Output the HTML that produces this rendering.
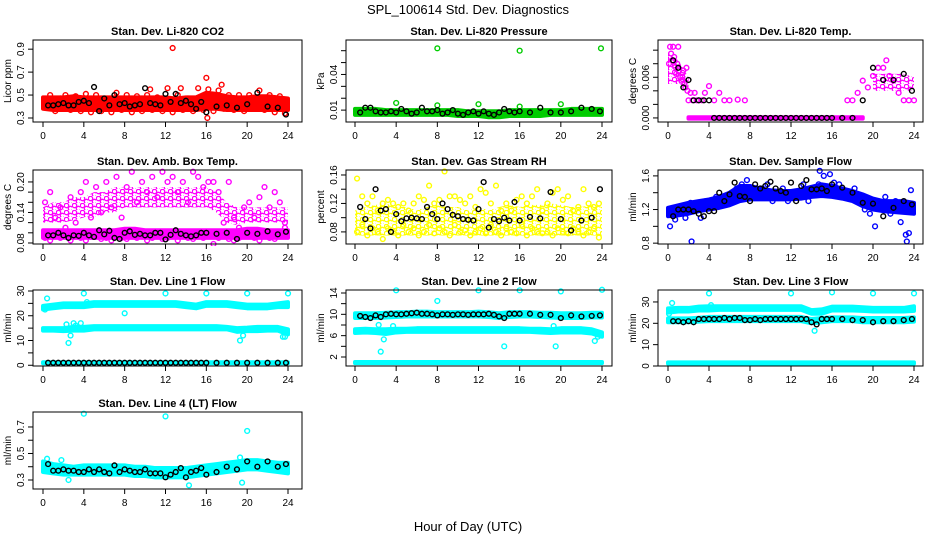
<!DOCTYPE html>
<html><head><meta charset="utf-8"><style>
html,body{margin:0;padding:0;background:#fff;}
svg{display:block;font-family:"Liberation Sans",sans-serif;}
</style></head><body>
<svg id="chart" width="936" height="540" viewBox="0 0 936 540" xmlns="http://www.w3.org/2000/svg">
<defs>
<pattern id="tex-ff00ff" width="8" height="7" patternUnits="userSpaceOnUse"><circle cx="2.5" cy="2.5" r="2.2" fill="none" stroke="#ff00ff" stroke-width="1.3"/><circle cx="6.5" cy="5.5" r="2.2" fill="none" stroke="#ff00ff" stroke-width="1.3"/></pattern>
<pattern id="tex-ffff00" width="8" height="7" patternUnits="userSpaceOnUse"><circle cx="2.5" cy="2.5" r="2.2" fill="none" stroke="#ffff00" stroke-width="1.3"/><circle cx="6.5" cy="5.5" r="2.2" fill="none" stroke="#ffff00" stroke-width="1.3"/></pattern>
</defs>
<rect width="936" height="540" fill="#fff"/>
<text x="468" y="14" font-size="13" text-anchor="middle">SPL_100614  Std. Dev. Diagnostics</text>
<text x="468" y="531" font-size="13" text-anchor="middle">Hour of Day (UTC)</text>
</svg>
<script>
const bandHours=[0,1,2,3,4,5,6,7,8,9,10,11,12,13,14,15,16,17,18,19,20,21,22,23,24];
const blackHours=[0.5,1,1.5,2,2.5,3,3.5,4,4.5,5,5.5,6,6.5,7,7.5,8,8.5,9,9.5,10,10.5,11,11.5,12,12.5,13,13.5,14,14.5,15,15.5,16,17,18,19,20,21,22,23,23.8];
const scatterHours=[0.2,0.7,1.2,1.7,2.2,2.7,3.2,3.7,4.2,4.7,5.2,5.7,6.2,6.7,7.2,7.7,8.2,8.7,9.2,9.7,10.2,10.7,11.2,11.7,12.2,12.7,13.2,13.7,14.2,14.7,15.2,15.7,16.2,16.7,17.2,17.7,18.2,18.7,19.2,19.7,20.2,20.7,21.2,21.7,22.2,22.7,23.2,23.7];
const xTicks=[0,4,8,12,16,20,24];

// CO2
const co2BandLo=[0.38,0.37,0.37,0.37,0.37,0.37,0.37,0.37,0.37,0.37,0.37,0.37,0.37,0.37,0.37,0.37,0.38,0.38,0.37,0.37,0.37,0.37,0.37,0.37,0.37];
const co2BandHi=[0.48,0.48,0.48,0.49,0.48,0.48,0.48,0.48,0.48,0.48,0.48,0.48,0.48,0.47,0.48,0.48,0.52,0.51,0.49,0.48,0.48,0.49,0.49,0.48,0.47];
const co2Scatter=[0.44,0.5,0.36,0.47,0.5,0.37,0.49,0.36,0.51,0.35,0.5,0.36,0.46,0.35,0.52,0.37,0.5,0.35,0.49,0.36,0.5,0.37,0.48,0.36,0.56,0.35,0.5,0.37,0.47,0.36,0.56,0.37,0.55,0.36,0.54,0.38,0.5,0.37,0.5,0.36,0.5,0.38,0.54,0.37,0.5,0.35,0.49,0.34];
const co2OutX=[12.7,16,17.5,16.1,10.5,13.5];
const co2OutY=[0.91,0.65,0.59,0.3,0.55,0.56];
const co2Black=[0.41,0.41,0.42,0.43,0.41,0.41,0.44,0.45,0.43,0.57,0.36,0.47,0.41,0.5,0.42,0.43,0.4,0.41,0.42,0.56,0.43,0.42,0.41,0.51,0.44,0.51,0.43,0.45,0.42,0.38,0.44,0.35,0.4,0.41,0.39,0.42,0.52,0.4,0.39,0.33];
// Pressure
const presBandLo=[0.006,0.006,0.006,0.006,0.006,0.006,0.006,0.006,0.006,0.006,0.005,0.005,0.005,0.004,0.004,0.005,0.005,0.005,0.005,0.006,0.006,0.006,0.006,0.006,0.006];
const presBandHi=[0.011,0.011,0.011,0.010,0.010,0.010,0.010,0.010,0.010,0.010,0.010,0.009,0.009,0.009,0.009,0.010,0.010,0.010,0.010,0.010,0.010,0.011,0.011,0.011,0.011];
const presOutX=[8,16,23.9,4,12,20,8,16];
const presOutY=[0.062,0.06,0.062,0.016,0.015,0.015,0.014,0.013];
const presBlack=[0.008,0.012,0.012,0.009,0.008,0.008,0.009,0.008,0.011,0.009,0.007,0.008,0.012,0.009,0.009,0.01,0.007,0.008,0.01,0.007,0.006,0.008,0.009,0.007,0.009,0.007,0.006,0.008,0.011,0.009,0.008,0.009,0.008,0.012,0.008,0.008,0.009,0.012,0.011,0.009];
// Li-820 Temp
const ltBandALo=[0.005,0.005,0.0045,null,null,null,null,null,null,null,null,null,null,null,null,null,null,null,null,null,0.004,0.004,0.004,0.004,0.004];
const ltBandAHi=[0.0095,0.0085,0.006,null,null,null,null,null,null,null,null,null,null,null,null,null,null,null,null,null,0.0065,0.0065,0.0065,0.0065,0.006];
const ltBandZLo=[null,null,-0.0001,-0.0001,-0.0001,-0.0001,-0.0001,-0.0001,-0.0001,-0.0001,-0.0001,-0.0001,-0.0001,-0.0001,-0.0001,-0.0001,-0.0001,-0.0001,-0.0001,-0.0001,null,null,null,null,null];
const ltBandZHi=[null,null,0.0001,0.0001,0.0001,0.0001,0.0001,0.0001,0.0001,0.0001,0.0001,0.0001,0.0001,0.0001,0.0001,0.0001,0.0001,0.0001,0.0001,0.0001,null,null,null,null,null];
const ltOutX=[0.1,0.2,0.3,0.4,0.5,0.6,0.7,0.8,0.9,1.0,1.1,1.2,1.3,1.4,1.5,1.6,1.7,1.8,1.9,2.0,2.2,2.4,2.6,2.8,3.0,3.3,3.6,4.0,4.5,5.0,5.5,6.0,6.8,7.5,17.5,18.0,18.5,19.0,19.5,20.0,20.5,21.0,21.3,21.6,22.0,22.5,23.0,23.5,24.0];
const ltOutY=[0.008,0.0105,0.0095,0.0085,0.0105,0.009,0.0075,0.0065,0.008,0.0105,0.007,0.006,0.0055,0.006,0.007,0.005,0.0045,0.0074,0.004,0.0026,0.0037,0.0026,0.0037,0.0026,0.0026,0.0026,0.0037,0.0047,0.0026,0.0037,0.0026,0.0026,0.0027,0.0026,0.0026,0.0026,0.0037,0.0055,0.0045,0.0062,0.0074,0.0074,0.0085,0.0062,0.0055,0.0037,0.0026,0.0026,0.0026];
const ltBlack=[0.0085,0.0074,0.0045,0.0056,0.0026,0.0026,0.0026,0.0026,0,0,0,0,0,0,0,0,0,0,0,0,0,0,0,0,0,0,0,0,0,0,0,0,0,0,0.0026,0.0074,0.0056,0.0056,0.0065,0.004];
// Amb box temp
const abBandALo=[0.12,0.12,0.12,0.125,0.13,0.13,0.14,0.14,0.15,0.15,0.15,0.15,0.15,0.15,0.15,0.15,0.15,0.14,0.12,0.115,0.12,0.12,0.12,0.12,0.12];
const abBandAHi=[0.15,0.16,0.16,0.17,0.17,0.18,0.18,0.19,0.19,0.19,0.19,0.19,0.19,0.19,0.19,0.19,0.19,0.18,0.16,0.15,0.15,0.15,0.15,0.15,0.15];
const abBandBLo=[0.09,0.09,0.09,0.09,0.09,0.09,0.09,0.09,0.09,0.09,0.09,0.09,0.09,0.09,0.09,0.09,0.09,0.09,0.09,0.09,0.09,0.09,0.09,0.09,0.09];
const abBandBHi=[0.105,0.105,0.105,0.105,0.105,0.105,0.105,0.105,0.108,0.108,0.105,0.105,0.105,0.105,0.105,0.105,0.105,0.105,0.105,0.105,0.108,0.108,0.105,0.105,0.105];
const abScatterA=[0.16,0.18,0.13,0.15,0.11,0.17,0.12,0.18,0.2,0.13,0.19,0.14,0.2,0.15,0.21,0.13,0.19,0.22,0.16,0.2,0.18,0.21,0.17,0.22,0.2,0.21,0.18,0.2,0.16,0.22,0.21,0.19,0.2,0.2,0.18,0.12,0.2,0.13,0.11,0.15,0.16,0.13,0.17,0.19,0.15,0.18,0.16,0.12];
const abScatterB=[0.09,0.085,0.1,0.09,0.095,0.085,0.1,0.09,0.085,0.095,0.1,0.088,0.09,0.085,0.1,0.09,0.088,0.095,0.09,0.1,0.085,0.09,0.095,0.088,0.09,0.1,0.085,0.095,0.09,0.088,0.095,0.09,0.1,0.078,0.09,0.095,0.088,0.085,0.09,0.1,0.095,0.09,0.085,0.1,0.09,0.088,0.095,0.11];
const abBlack=[0.095,0.095,0.1,0.095,0.09,0.095,0.094,0.1,0.095,0.092,0.105,0.097,0.104,0.09,0.088,0.1,0.103,0.096,0.098,0.095,0.095,0.1,0.1,0.087,0.096,0.105,0.098,0.095,0.093,0.095,0.1,0.1,0.098,0.1,0.088,0.1,0.098,0.103,0.097,0.102];
// RH
const rhBandLo=[0.075,0.075,0.075,0.075,0.075,0.075,0.075,0.075,0.075,0.075,0.075,0.075,0.075,0.075,0.075,0.075,0.075,0.075,0.075,0.075,0.075,0.075,0.075,0.075,0.075];
const rhBandHi=[0.11,0.115,0.118,0.12,0.115,0.115,0.11,0.115,0.118,0.115,0.115,0.11,0.115,0.11,0.115,0.118,0.115,0.118,0.118,0.12,0.118,0.115,0.115,0.118,0.115];
const rhScatterA=[0.155,0.13,0.12,0.13,0.11,0.12,0.125,0.12,0.115,0.12,0.11,0.12,0.13,0.125,0.145,0.12,0.125,0.165,0.13,0.13,0.125,0.12,0.13,0.115,0.14,0.135,0.12,0.145,0.11,0.12,0.11,0.125,0.13,0.12,0.13,0.14,0.11,0.12,0.135,0.14,0.125,0.13,0.11,0.115,0.14,0.12,0.115,0.12];
const rhScatterB=[0.08,0.09,0.075,0.085,0.08,0.07,0.085,0.08,0.075,0.09,0.08,0.085,0.075,0.08,0.09,0.078,0.085,0.08,0.075,0.09,0.08,0.082,0.075,0.08,0.085,0.078,0.09,0.08,0.075,0.085,0.08,0.078,0.09,0.075,0.085,0.08,0.078,0.08,0.075,0.085,0.08,0.078,0.085,0.08,0.075,0.08,0.085,0.072];
const rhBlack=[0.115,0.098,0.085,0.14,0.11,0.112,0.08,0.105,0.095,0.099,0.1,0.099,0.098,0.115,0.105,0.098,0.12,0.112,0.104,0.102,0.098,0.097,0.096,0.112,0.15,0.086,0.098,0.095,0.1,0.096,0.122,0.096,0.101,0.099,0.136,0.098,0.082,0.096,0.1,0.14];
// Sample flow
const sfBandLo=[1.12,1.13,1.15,1.18,1.2,1.22,1.25,1.3,1.32,1.32,1.32,1.32,1.32,1.33,1.35,1.36,1.35,1.33,1.3,1.24,1.2,1.18,1.17,1.16,1.15];
const sfBandHi=[1.22,1.25,1.28,1.3,1.32,1.35,1.4,1.48,1.48,1.45,1.43,1.42,1.42,1.44,1.47,1.5,1.48,1.45,1.42,1.38,1.33,1.3,1.3,1.3,1.28];
const sfScatter=[1.0,1.08,1.2,1.1,1.28,1.25,1.1,1.3,1.3,1.35,1.35,1.3,1.4,1.45,1.5,1.55,1.4,1.35,1.45,1.5,1.3,1.4,1.45,1.3,1.38,1.35,1.5,1.3,1.4,1.5,1.6,1.45,1.52,1.5,1.35,1.4,1.45,1.3,1.2,1.15,1.0,1.25,1.35,1.15,1.3,1.05,0.9,1.43];
const sfOutX=[2.3,14.8,15.8,23.3,23.5];
const sfOutY=[0.82,1.66,1.62,0.82,0.92];
const sfBlack=[1.12,1.2,1.2,1.2,1.18,1.15,1.12,1.18,1.18,1.4,1.3,1.38,1.52,1.36,1.35,1.3,1.5,1.45,1.48,1.53,1.45,1.42,1.4,1.52,1.3,1.48,1.55,1.44,1.44,1.45,1.42,1.5,1.46,1.4,1.28,1.27,1.12,1.22,1.3,1.26];
// Line 1
const l1BandALo=[22.5,23,23.5,23.5,23.5,24,24,24,24,24,24,24,24,24,23.5,23,24,24,24,23.5,23,23,23,23.5,23.5];
const l1BandAHi=[24,24.5,25,25,25,25.5,25.5,25.5,25.5,25.5,25.5,25.5,25.5,25.5,25,24.5,25.5,25.5,25.5,25,24.5,24.5,24.5,25,25.5];
const l1BandBLo=[14,14,13.8,14,14,14.5,14.5,14.5,14.5,14.5,14.5,14.5,14.5,14.5,14.5,14.5,14.5,14.5,14.5,13.5,13.8,13.8,14,14,12.5];
const l1BandBHi=[15,15,15,15.5,15.5,15.8,15.8,15.8,15.8,15.8,15.8,15.8,15.8,15.8,15.8,15.8,15.8,15.8,15.5,15,15.2,15.5,15.5,15.5,14.5];
const l1BandCLo=[0.8,0.8,0.8,0.8,0.8,0.8,0.8,0.8,0.8,0.8,0.8,0.8,0.8,0.8,0.8,0.8,0.8,0.8,0.8,0.8,0.8,0.8,0.8,0.8,0.8];
const l1BandCHi=[1.2,1.2,1.2,1.2,1.2,1.2,1.2,1.2,1.2,1.2,1.2,1.2,1.2,1.2,1.2,1.2,1.2,1.2,1.2,1.2,1.2,1.2,1.2,1.2,1.2];
const l1OutX=[0.4,4,12,16,20,24,8,2.5,2.7,3,3.7,19.3,19.6,23.5,23.7,2.3,3.2,0.2,4.3];
const l1OutY=[27,29,29,29,29,29,21,9,12,17,17,10,12,11.5,11.5,16.5,16,22.5,25.5];
const l1Black=[1,1,1,1,1,1,1,1,1,1,1,1,1,1,1,1,1,1,1,1,1,1,1,1,1,1,1,1,1,1,1,1,1,1,1,1,1,1,1,1];
// Line 2
const l2BandALo=[9.3,9.3,9.3,9.4,9.5,9.6,9.6,9.6,9.6,9.6,9.6,9.6,9.6,9.5,9.3,9.5,9.6,9.6,9.5,9.4,9.3,9.3,9.3,9.4,9.4];
const l2BandAHi=[10.2,10.2,10.2,10.3,10.4,10.4,10.5,10.5,10.4,10.4,10.4,10.4,10.5,10.4,10.2,10.4,10.4,10.4,10.3,10.3,10.2,10.2,10.2,10.3,10.3];
const l2BandBLo=[6.5,6.6,6.5,6.3,6.6,6.7,6.7,6.7,6.7,6.7,6.7,6.7,6.7,6.7,6.7,6.7,6.7,6.7,6.6,6.5,6.6,6.6,6.6,6.4,5.8];
const l2BandBHi=[7.2,7.3,7.2,7.2,7.3,7.3,7.4,7.4,7.4,7.4,7.4,7.4,7.4,7.4,7.4,7.4,7.4,7.3,7.3,7.2,7.4,7.4,7.4,7.2,6.6];
const l2BandCLo=[0.85,0.85,0.85,0.85,0.85,0.85,0.85,0.85,0.85,0.85,0.85,0.85,0.85,0.85,0.85,0.85,0.85,0.85,0.85,0.85,0.85,0.85,0.85,0.85,0.85];
const l2BandCHi=[1.05,1.05,1.05,1.05,1.05,1.05,1.05,1.05,1.05,1.05,1.05,1.05,1.05,1.05,1.05,1.05,1.05,1.05,1.05,1.05,1.05,1.05,1.05,1.05,1.05];
const l2OutX=[4,12,16,20,24,8,2.5,2.8,14.5,19.5,23.3,3.7,2.3,19.3,23.6];
const l2OutY=[14.5,14.5,14.5,14.3,14.6,12.5,3,5.3,4,4,5,7.8,8,7.8,5.8];
const l2Black=[9.7,9.5,9.3,9.8,9.5,10,10.1,10,10,10.1,10.2,10.3,10.1,10.1,10,9.8,10,10,9.9,10,10,9.9,10,10,10,10.1,9.9,9.6,9.3,10.1,10.1,10.1,10.1,9.9,9.9,9.3,9.8,9.6,9.7,9.8];
// Line 3
const l3BandALo=[25,25.5,25.5,26,26,26.3,26.3,26.3,26.3,26.3,26.3,26.3,26.3,26.3,24.5,24.5,26,26,26,25.8,25.5,25.5,25.5,25.5,25.8];
const l3BandAHi=[27,27.2,27.2,27.8,28,28,28,28,28,28,28,28,28,28,26.2,26.5,27.8,27.8,27.8,27.5,27.2,27.2,27.2,27.2,28];
const l3BandBLo=[20.5,20.5,20.5,20.8,21,21,21,21,21,21,21,21,21,21,20,20.5,21,21,21,20.5,20.5,20.5,20.5,20.5,20.8];
const l3BandBHi=[22.3,22.3,22.3,22.6,23,23,23,23,23,23,23,23,23,23,22,22.5,22.8,22.8,22.8,22.5,22.5,22.5,22.5,22.5,22.8];
const l3BandCLo=[1.1,1.1,1.1,1.1,1.1,1.1,1.1,1.1,1.1,1.1,1.1,1.1,1.1,1.1,1.1,1.1,1.1,1.1,1.1,1.1,1.1,1.1,1.1,1.1,1.1];
const l3BandCHi=[1.7,1.7,1.7,1.7,1.7,1.7,1.7,1.7,1.7,1.7,1.7,1.7,1.7,1.7,1.7,1.7,1.7,1.7,1.7,1.7,1.7,1.7,1.7,1.7,1.7];
const l3OutX=[4,12,16,20,24,0.4,14.3,4.2,0.1];
const l3OutY=[34,34,34.5,34,34,29.5,16.5,28.5,24.5];
const l3Black=[21,21,20.5,21,20.5,22,22,22,22,22,22.5,22,22.5,22.5,21.5,21.5,22,21.5,22,22,22,22,22,22,22,22,22,20.5,19.5,22,22,22,22,21.5,21.5,20.5,21,21,21.5,22];
// Line 4
const l4BandLo=[0.36,0.35,0.34,0.34,0.34,0.34,0.34,0.34,0.34,0.33,0.33,0.32,0.32,0.32,0.32,0.33,0.34,0.35,0.36,0.37,0.38,0.38,0.37,0.36,0.35];
const l4BandHi=[0.44,0.42,0.41,0.4,0.41,0.41,0.41,0.41,0.41,0.4,0.4,0.39,0.39,0.39,0.39,0.4,0.41,0.42,0.43,0.44,0.45,0.45,0.44,0.43,0.43];
const l4OutX=[4,12,20,14.3,2.5,19.5,0.4,1.8,19.3];
const l4OutY=[0.8,0.78,0.67,0.26,0.3,0.28,0.46,0.45,0.47];
const l4Black=[0.42,0.37,0.37,0.38,0.37,0.37,0.36,0.36,0.38,0.36,0.38,0.36,0.35,0.41,0.36,0.38,0.37,0.36,0.36,0.38,0.35,0.35,0.35,0.32,0.34,0.36,0.39,0.32,0.36,0.37,0.39,0.34,0.36,0.4,0.38,0.44,0.4,0.44,0.4,0.42];

const RED='#ff0000',GRN='#00cc00',MAG='#ff00ff',YEL='#ffff00',BLU='#0000ff',CYN='#00ffff';
const cols=[{bl:33,br:302,x0:43,x24:288},{bl:346,br:612,x0:355,x24:602},{bl:658,br:923,x0:668,x24:914}];
const rows=[[40,122],[170,244],[290,366],[412,489]];

// band entries: [lo, hi, textured?]
const panels=[
 {name:'co2',title:'Stan. Dev. Li-820 CO2',yl:'Licor ppm',c:0,r:0,dom:[0.265,0.98],ticks:[0.3,0.5,0.7,0.9],labs:['0.3','0.5','0.7','0.9'],col:RED,
  bands:[[co2BandLo,co2BandHi,false]],sc:[co2Scatter],out:[co2OutX,co2OutY],blk:co2Black},
 {name:'pressure',title:'Stan. Dev. Li-820 Pressure',yl:'kPa',c:1,r:0,dom:[0.0,0.069],ticks:[0.01,0.02,0.03,0.04,0.05,0.06],labs:['0.01','','','0.04','',''],col:GRN,
  bands:[[presBandLo,presBandHi,false]],sc:[],out:[presOutX,presOutY],blk:presBlack},
 {name:'li820-temp',title:'Stan. Dev. Li-820 Temp.',yl:'degrees C',c:2,r:0,dom:[-0.0006,0.0115],ticks:[0,0.002,0.004,0.006,0.008,0.010],labs:['0.000','','','0.006','',''],col:MAG,
  bands:[[ltBandALo,ltBandAHi,true],[ltBandZLo,ltBandZHi,false]],sc:[],out:[ltOutX,ltOutY],blk:ltBlack},
 {name:'amb-box-temp',title:'Stan. Dev. Amb. Box Temp.',yl:'degrees C',c:0,r:1,dom:[0.078,0.2235],ticks:[0.08,0.10,0.12,0.14,0.16,0.18,0.20],labs:['0.08','','','0.14','','','0.20'],col:MAG,
  bands:[[abBandALo,abBandAHi,true],[abBandBLo,abBandBHi,false]],sc:[abScatterA,abScatterB],out:null,blk:abBlack},
 {name:'gas-stream-rh',title:'Stan. Dev. Gas Stream RH',yl:'percent',c:1,r:1,dom:[0.063,0.167],ticks:[0.08,0.10,0.12,0.14,0.16],labs:['0.08','','0.12','','0.16'],col:YEL,
  bands:[[rhBandLo,rhBandHi,true]],sc:[rhScatterA,rhScatterB],out:null,blk:rhBlack},
 {name:'sample-flow',title:'Stan. Dev. Sample Flow',yl:'ml/min',c:2,r:1,dom:[0.79,1.67],ticks:[0.8,1.0,1.2,1.4,1.6],labs:['0.8','','1.2','','1.6'],col:BLU,
  bands:[[sfBandLo,sfBandHi,false]],sc:[sfScatter],out:[sfOutX,sfOutY],blk:sfBlack},
 {name:'line1-flow',title:'Stan. Dev. Line 1 Flow',yl:'ml/min',c:0,r:2,dom:[-0.3,30.4],ticks:[0,5,10,15,20,25,30],labs:['0','','10','','20','','30'],col:CYN,
  bands:[[l1BandALo,l1BandAHi,false],[l1BandBLo,l1BandBHi,false],[l1BandCLo,l1BandCHi,false]],sc:[],out:[l1OutX,l1OutY],blk:l1Black},
 {name:'line2-flow',title:'Stan. Dev. Line 2 Flow',yl:'ml/min',c:1,r:2,dom:[0.31,14.56],ticks:[2,4,6,8,10,12,14],labs:['2','','6','','10','','14'],col:CYN,
  bands:[[l2BandALo,l2BandAHi,false],[l2BandBLo,l2BandBHi,false],[l2BandCLo,l2BandCHi,false]],sc:[],out:[l2OutX,l2OutY],blk:l2Black},
 {name:'line3-flow',title:'Stan. Dev. Line 3 Flow',yl:'ml/min',c:2,r:2,dom:[0,35.6],ticks:[0,10,20,30],labs:['0','10','20','30'],col:CYN,
  bands:[[l3BandALo,l3BandAHi,false],[l3BandBLo,l3BandBHi,false],[l3BandCLo,l3BandCHi,false]],sc:[],out:[l3OutX,l3OutY],blk:l3Black},
 {name:'line4-flow',title:'Stan. Dev. Line 4 (LT) Flow',yl:'ml/min',c:0,r:3,dom:[0.232,0.813],ticks:[0.3,0.4,0.5,0.6,0.7],labs:['0.3','','0.5','','0.7'],col:CYN,
  bands:[[l4BandLo,l4BandHi,false]],sc:[],out:[l4OutX,l4OutY],blk:l4Black}
];

const svg=document.getElementById('chart');
const NS='http://www.w3.org/2000/svg';
function mk(tag,attrs,parent){const e=document.createElementNS(NS,tag);for(const k in attrs)e.setAttribute(k,attrs[k]);(parent||svg).appendChild(e);return e;}

panels.forEach(p=>{
  const C=cols[p.c],[top,bot]=rows[p.r];
  const g=mk('g',{});
  
  
  const xs=h=>C.x0+(C.x24-C.x0)*h/24;
  const ys=v=>bot-(v-p.dom[0])/(p.dom[1]-p.dom[0])*(bot-top);
  const clipId='clip-'+p.name;
  const cp=mk('clipPath',{id:clipId},g);
  mk('rect',{x:C.bl,y:top-6,width:C.br-C.bl,height:bot-top+8},cp);
  const plot=mk('g',{'clip-path':'url(#'+clipId+')'},g);
  p.bands.forEach((b,bi)=>{
    const [lo,hi,tex]=b;let seg=[];
    const segs=[];
    for(let i=0;i<bandHours.length;i++){
      if(lo[i]==null){if(seg.length)segs.push(seg);seg=[];}else seg.push(i);
    }
    if(seg.length)segs.push(seg);
    segs.forEach(s=>{
      const pts=s.map(i=>xs(bandHours[i])+','+ys(hi[i])).concat(s.slice().reverse().map(i=>xs(bandHours[i])+','+ys(lo[i])));
      const fill=tex?'url(#tex-'+p.col.slice(1)+')':p.col;
      const poly=mk('polygon',{points:pts.join(' '),fill:fill,stroke:tex?'none':p.col,'stroke-width':tex?0:4,'stroke-linejoin':'round'},plot);
      
      
    });
  });
  const dot=(x,y,color,nm)=>{
    const c=mk('circle',{cx:xs(x),cy:ys(y),r:2.4,fill:'none',stroke:color,'stroke-width':1.4},plot);
    
    
  };
  p.sc.forEach(arr=>arr.forEach((v,i)=>dot(scatterHours[i],v,p.col,p.name+'-point')));
  if(p.out)p.out[0].forEach((x,i)=>dot(x,p.out[1][i],p.col,p.name+'-outlier'));
  p.blk.forEach((v,i)=>dot(blackHours[i],v,'#000',p.name+'-black-point'));
  mk('rect',{x:C.bl,y:top,width:C.br-C.bl,height:bot-top,fill:'none',stroke:'#000','stroke-width':1},g);
  mk('line',{x1:C.x0,x2:C.x24,y1:bot,y2:bot,stroke:'#000'},g);
  xTicks.forEach(t=>{
    mk('line',{x1:xs(t),x2:xs(t),y1:bot,y2:bot+5,stroke:'#000'},g);
    const tx=mk('text',{x:xs(t),y:bot+17,'font-size':10,'text-anchor':'middle'},g);tx.textContent=t;
    
    
  });
  const yt0=ys(p.ticks[0]),yt1=ys(p.ticks[p.ticks.length-1]);
  mk('line',{x1:C.bl,x2:C.bl,y1:yt0,y2:yt1,stroke:'#000'},g);
  p.ticks.forEach((t,i)=>{
    const y=ys(t);
    mk('line',{x1:C.bl-5,x2:C.bl,y1:y,y2:y,stroke:'#000'},g);
    if(p.labs[i]){
      const tx=mk('text',{x:0,y:0,'font-size':10,'text-anchor':'middle',transform:'translate('+(C.bl-9)+','+y+') rotate(-90)'},g);
      tx.textContent=p.labs[i];
      
      
    }
  });
  const yl=mk('text',{x:0,y:0,'font-size':10,'text-anchor':'middle',transform:'translate('+(C.bl-22)+','+((top+bot)/2)+') rotate(-90)'},g);
  yl.textContent=p.yl;
  
  
  const tt=mk('text',{x:(C.bl+C.br)/2,y:top-5,'font-size':11,'font-weight':'bold','text-anchor':'middle'},g);
  tt.textContent=p.title;
  
  
});
</script>
</body></html>
